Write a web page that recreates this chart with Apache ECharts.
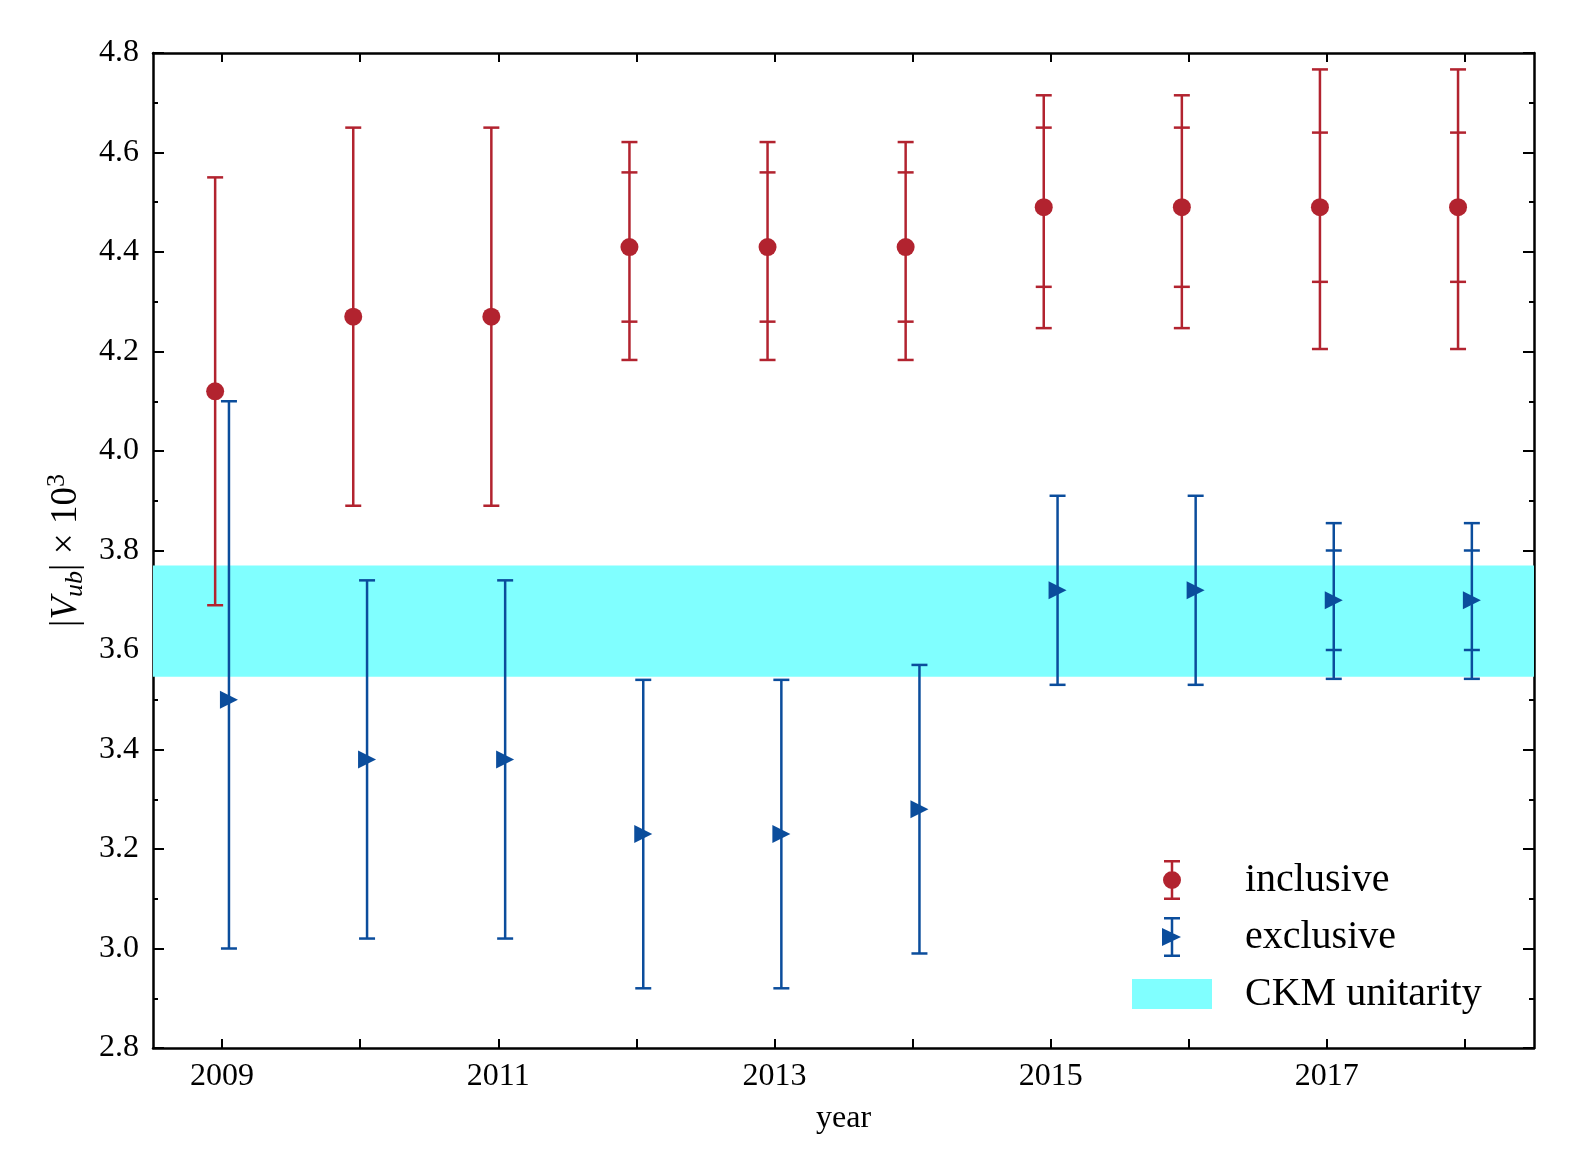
<!DOCTYPE html>
<html>
<head>
<meta charset="utf-8">
<script src="https://cdn.jsdelivr.net/npm/echarts@6/dist/echarts.min.js"></script>
<style>
  html, body { margin: 0; padding: 0; background: #fff; }
  #chart { width: 1571px; height: 1176px; }
</style>
</head>
<body>
<div id="chart"></div>
<script>
// years on the axis
const tickYears = [2009, 2010, 2011, 2012, 2013, 2014, 2015, 2016, 2017, 2018];
const labelYears = [2009, 2011, 2013, 2015, 2017];

// inclusive |Vub| x 10^3 (points drawn slightly left of the year)
const inclX = [2008.95, 2009.95, 2010.95, 2011.95, 2012.95, 2013.95, 2014.95, 2015.95, 2016.95, 2017.95];
const inclVal = [4.12, 4.27, 4.27, 4.41, 4.41, 4.41, 4.49, 4.49, 4.49, 4.49];
const inclLo = [3.69, 3.89, 3.89, 4.183, 4.183, 4.183, 4.247, 4.247, 4.205, 4.205];
const inclHi = [4.55, 4.65, 4.65, 4.621, 4.621, 4.621, 4.715, 4.715, 4.767, 4.767];
const inclInLo = [null, null, null, 4.26, 4.26, 4.26, 4.33, 4.33, 4.34, 4.34];
const inclInHi = [null, null, null, 4.56, 4.56, 4.56, 4.65, 4.65, 4.64, 4.64];

// exclusive (slightly right of the year)
const exclX = [2009.05, 2010.05, 2011.05, 2012.05, 2013.05, 2014.05, 2015.05, 2016.05, 2017.05, 2018.05];
const exclVal = [3.50, 3.38, 3.38, 3.23, 3.23, 3.28, 3.72, 3.72, 3.70, 3.70];
const exclLo = [3.00, 3.02, 3.02, 2.92, 2.92, 2.99, 3.53, 3.53, 3.542, 3.542];
const exclHi = [4.10, 3.74, 3.74, 3.54, 3.54, 3.57, 3.91, 3.91, 3.855, 3.855];
const exclInLo = [null, null, null, null, null, null, null, null, 3.60, 3.60];
const exclInHi = [null, null, null, null, null, null, null, null, 3.80, 3.80];

// CKM unitarity band
const ckmBand = [3.546, 3.770];

const RED = '#b2232f';
const BLUE = '#0b4d9c';
const CYAN = '#80ffff';
const FONT = 'Liberation Serif';
const X_MIN = 2008.5, X_MAX = 2018.5;

const chart = echarts.init(document.getElementById('chart'));

function errData(xs, lo, hi, inLo, inHi) {
    return xs.map((x, i) => [x, lo[i], hi[i], inLo[i] == null ? '-' : inLo[i], inHi[i] == null ? '-' : inHi[i]]);
}

function errRender(color) {
    return function (params, api) {
        const x = api.value(0);
        const pLo = api.coord([x, api.value(1)]);
        const pHi = api.coord([x, api.value(2)]);
        const hw = 8;
        const st = { stroke: color, lineWidth: 2.5 };
        const kids = [
            { type: 'line', shape: { x1: pLo[0], y1: pLo[1], x2: pHi[0], y2: pHi[1] }, style: st },
            { type: 'line', shape: { x1: pLo[0] - hw, y1: pLo[1], x2: pLo[0] + hw, y2: pLo[1] }, style: st },
            { type: 'line', shape: { x1: pHi[0] - hw, y1: pHi[1], x2: pHi[0] + hw, y2: pHi[1] }, style: st }
        ];
        const a = api.value(3), b = api.value(4);
        if (!isNaN(a) && !isNaN(b)) {
            const qa = api.coord([x, a]), qb = api.coord([x, b]);
            kids.push({ type: 'line', shape: { x1: qa[0] - hw, y1: qa[1], x2: qa[0] + hw, y2: qa[1] }, style: st });
            kids.push({ type: 'line', shape: { x1: qb[0] - hw, y1: qb[1], x2: qb[0] + hw, y2: qb[1] }, style: st });
        }
        return { type: 'group', children: kids };
    };
}

// legend icons, drawn in a 136x40 box (stray moves fix the box size)
const box = 'M0 0 M136 40 ';
const barPath = 'M66.75 0 L69.25 0 L69.25 40 L66.75 40 Z M60 0 L76 0 L76 2.5 L60 2.5 Z M60 37.5 L76 37.5 L76 40 L60 40 Z ';
const iconIncl = 'path://' + box + barPath + 'M59 20 A9 9 0 1 1 77 20 A9 9 0 1 1 59 20 Z';
const iconExcl = 'path://' + box + barPath + 'M58 11 L77 20 L58 29 Z';
const iconCkm = 'path://' + box + 'M28 5 L108 5 L108 35 L28 35 Z';

const axisLineStyle = { color: '#000', width: 2.5 };
const tickStyle = { color: '#000', width: 2 };

const option = {
    backgroundColor: '#fff',
    animation: false,
    grid: { left: 153, right: 37, top: 53, bottom: 128 },
    legend: {
        orient: 'vertical',
        left: 1099,
        top: 855,
        itemWidth: 136,
        itemHeight: 40,
        itemGap: 17,
        symbolKeepAspect: true,
        textStyle: { fontFamily: FONT, fontSize: 40, color: '#000', lineHeight: 40 },
        data: [
            { name: 'inclusive', icon: iconIncl },
            { name: 'exclusive', icon: iconExcl },
            { name: 'CKM unitarity', icon: iconCkm }
        ]
    },
    xAxis: [
        {
            type: 'value', min: X_MIN, max: X_MAX, position: 'bottom',
            name: 'year', nameLocation: 'middle', nameGap: 55,
            nameTextStyle: { fontFamily: FONT, fontSize: 32, color: '#000' },
            axisLine: { show: true, lineStyle: axisLineStyle },
            axisTick: { show: true, inside: true, length: 9, customValues: tickYears, lineStyle: tickStyle },
            axisLabel: { customValues: labelYears, formatter: v => String(v), fontFamily: FONT, fontSize: 32, color: '#000', margin: 13 },
            splitLine: { show: false }
        },
        {
            type: 'value', min: X_MIN, max: X_MAX, position: 'top',
            axisLine: { show: true, lineStyle: axisLineStyle },
            axisTick: { show: true, inside: true, length: 9, customValues: tickYears, lineStyle: tickStyle },
            axisLabel: { show: false },
            splitLine: { show: false }
        }
    ],
    yAxis: [
        {
            type: 'value', min: 2.8, max: 4.8, interval: 0.2, position: 'left',
            name: '|{i|V}{sub|ub}| × 10{sup|3}', nameLocation: 'middle', nameGap: 64, nameRotate: 90,
            nameTextStyle: {
                fontFamily: FONT, fontSize: 37, color: '#000', lineHeight: 44,
                rich: {
                    i: { fontFamily: FONT, fontSize: 37, fontStyle: 'italic', color: '#000', lineHeight: 44 },
                    sub: { fontFamily: FONT, fontSize: 26, fontStyle: 'italic', color: '#000', lineHeight: 24, verticalAlign: 'bottom' },
                    sup: { fontFamily: FONT, fontSize: 26, color: '#000', lineHeight: 24, verticalAlign: 'top' }
                }
            },
            axisLine: { show: true, lineStyle: axisLineStyle },
            axisTick: { show: true, inside: true, length: 11, lineStyle: tickStyle },
            minorTick: { show: true, splitNumber: 2, length: 5, lineStyle: tickStyle },
            axisLabel: { formatter: v => v.toFixed(1), fontFamily: FONT, fontSize: 32, color: '#000', margin: 14 },
            splitLine: { show: false }
        },
        {
            type: 'value', min: 2.8, max: 4.8, interval: 0.2, position: 'right',
            axisLine: { show: true, lineStyle: axisLineStyle },
            axisTick: { show: true, inside: true, length: 11, lineStyle: tickStyle },
            minorTick: { show: true, splitNumber: 2, length: 5, lineStyle: tickStyle },
            axisLabel: { show: false },
            splitLine: { show: false }
        }
    ],
    series: [
        {
            name: 'CKM unitarity',
            type: 'custom',
            xAxisIndex: 0, yAxisIndex: 0,
            itemStyle: { color: CYAN },
            encode: { y: [0, 1] },
            data: [ckmBand],
            z: 1,
            renderItem: function (params, api) {
                const top = api.coord([X_MIN, api.value(1)]);
                const bot = api.coord([X_MAX, api.value(0)]);
                return {
                    type: 'rect',
                    shape: { x: top[0], y: top[1], width: bot[0] - top[0], height: bot[1] - top[1] },
                    style: { fill: CYAN }
                };
            }
        },
        {
            name: 'inclusive-err',
            type: 'custom',
            xAxisIndex: 0, yAxisIndex: 0,
            encode: { x: 0, y: [1, 2] },
            data: errData(inclX, inclLo, inclHi, inclInLo, inclInHi),
            z: 3,
            renderItem: errRender(RED)
        },
        {
            name: 'exclusive-err',
            type: 'custom',
            xAxisIndex: 0, yAxisIndex: 0,
            encode: { x: 0, y: [1, 2] },
            data: errData(exclX, exclLo, exclHi, exclInLo, exclInHi),
            z: 3,
            renderItem: errRender(BLUE)
        },
        {
            name: 'inclusive',
            type: 'scatter',
            xAxisIndex: 0, yAxisIndex: 0,
            symbol: 'circle',
            symbolSize: 18,
            itemStyle: { color: RED, opacity: 1 },
            data: inclX.map((x, i) => [x, inclVal[i]]),
            z: 4
        },
        {
            name: 'exclusive',
            type: 'scatter',
            xAxisIndex: 0, yAxisIndex: 0,
            symbol: 'triangle',
            symbolRotate: -90,
            symbolSize: [18, 18],
            itemStyle: { color: BLUE, opacity: 1 },
            data: exclX.map((x, i) => [x, exclVal[i]]),
            z: 4
        }
    ]
};

chart.setOption(option);
</script>
</body>
</html>
